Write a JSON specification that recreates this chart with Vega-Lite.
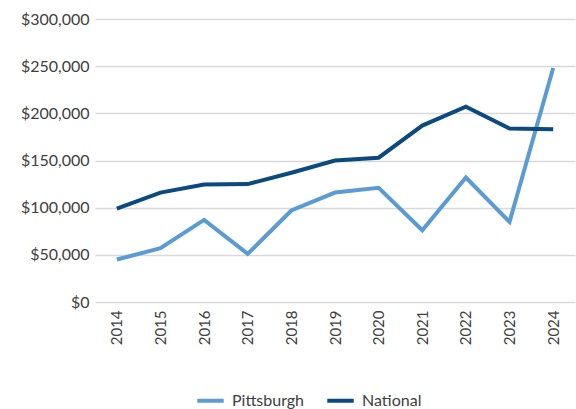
{
  "$schema": "https://vega.github.io/schema/vega-lite/v6.json",
  "width": 480,
  "height": 283,
  "autosize": {"type": "none"},
  "padding": {"left": 95, "top": 19, "right": 1, "bottom": 107},
  "background": "white",
  "config": {
    "view": {"stroke": null},
    "font": "Lato"
  },
  "data": {
    "values": [
      {"year": "2014", "series": "Pittsburgh", "value": 45000},
      {"year": "2015", "series": "Pittsburgh", "value": 57000},
      {"year": "2016", "series": "Pittsburgh", "value": 87000},
      {"year": "2017", "series": "Pittsburgh", "value": 51000},
      {"year": "2018", "series": "Pittsburgh", "value": 97000},
      {"year": "2019", "series": "Pittsburgh", "value": 116000},
      {"year": "2020", "series": "Pittsburgh", "value": 121000},
      {"year": "2021", "series": "Pittsburgh", "value": 76000},
      {"year": "2022", "series": "Pittsburgh", "value": 132000},
      {"year": "2023", "series": "Pittsburgh", "value": 85000},
      {"year": "2024", "series": "Pittsburgh", "value": 248000},
      {"year": "2014", "series": "National", "value": 99000},
      {"year": "2015", "series": "National", "value": 116000},
      {"year": "2016", "series": "National", "value": 124500},
      {"year": "2017", "series": "National", "value": 125000},
      {"year": "2018", "series": "National", "value": 137000},
      {"year": "2019", "series": "National", "value": 150000},
      {"year": "2020", "series": "National", "value": 153000},
      {"year": "2021", "series": "National", "value": 187000},
      {"year": "2022", "series": "National", "value": 207000},
      {"year": "2023", "series": "National", "value": 184000},
      {"year": "2024", "series": "National", "value": 183000}
    ]
  },
  "mark": {"type": "line", "strokeWidth": 4, "strokeJoin": "miter", "strokeCap": "butt"},
  "encoding": {
    "x": {
      "field": "year",
      "type": "ordinal",
      "scale": {"type": "point", "padding": 0.5},
      "axis": {
        "title": null,
        "labelAngle": -90,
        "labelFontSize": 15,
        "labelColor": "#404040",
        "labelPadding": 8,
        "ticks": false,
        "domain": false,
        "grid": false
      }
    },
    "y": {
      "field": "value",
      "type": "quantitative",
      "scale": {"domain": [0, 300000], "nice": false},
      "axis": {
        "title": null,
        "values": [0, 50000, 100000, 150000, 200000, 250000, 300000],
        "format": "$,.0f",
        "labelFontSize": 16,
        "labelColor": "#404040",
        "labelPadding": 6,
        "ticks": false,
        "domain": false,
        "gridColor": "#d9d9d9",
        "gridWidth": 1.5
      }
    },
    "color": {
      "field": "series",
      "type": "nominal",
      "sort": ["Pittsburgh", "National"],
      "scale": {"domain": ["Pittsburgh", "National"], "range": ["#5b9bd5", "#0b4a7e"]},
      "legend": {
        "title": null,
        "orient": "none",
        "legendX": 100,
        "legendY": 366,
        "direction": "horizontal",
        "symbolType": "stroke",
        "symbolStrokeWidth": 4,
        "symbolSize": 700,
        "labelFontSize": 16,
        "labelColor": "#404040",
        "columnPadding": 14,
        "labelOffset": 6,
        "padding": 0,
        "offset": 0
      }
    }
  }
}
